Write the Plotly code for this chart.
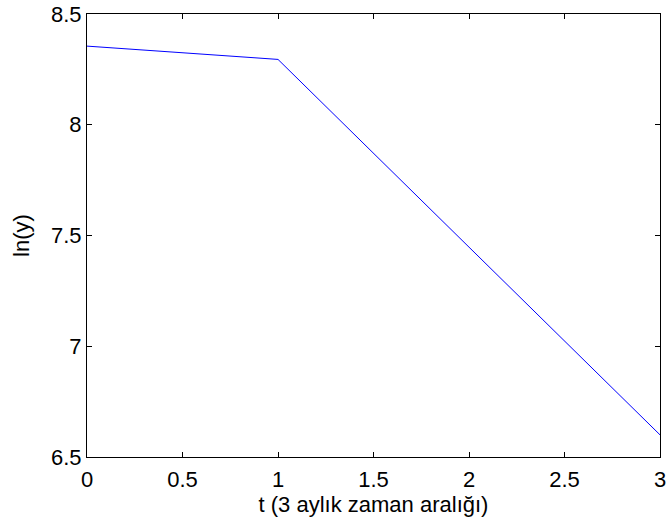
import plotly.graph_objects as go

t = [0, 1, 3]
lny = [8.355, 8.295, 6.60]
xticks = [0, 0.5, 1, 1.5, 2, 2.5, 3]
yticks = [6.5, 7, 7.5, 8, 8.5]

FONT = "Liberation Sans, Arial"
fig = go.Figure()
fig.add_trace(go.Scatter(x=t, y=lny, mode="lines",
                         line=dict(color="#0000ff", width=1)))

axis_common = dict(showgrid=False, zeroline=False, showline=True, linecolor="black",
                   linewidth=1, mirror="ticks", ticks="inside", ticklen=5,
                   tickcolor="black", automargin=False,
                   tickfont=dict(family=FONT, size=22, color="black"))
fig.update_layout(
    width=667, height=526,
    margin=dict(l=87, r=7, t=14, b=69),
    paper_bgcolor="white", plot_bgcolor="white",
    showlegend=False,
    font=dict(family=FONT, size=22, color="black"),
    xaxis=dict(range=[0, 3], tickvals=xticks, ticktext=[f"{v:g}" for v in xticks],
               ticklabelstandoff=3,
               title=dict(text="t (3 aylık zaman aralığı)", standoff=2,
                          font=dict(family=FONT, size=22)), **axis_common),
    yaxis=dict(range=[6.5, 8.5], tickvals=yticks, ticktext=[f"{v:g}" for v in yticks],
               title=dict(text="ln(y)", standoff=15,
                          font=dict(family=FONT, size=22)), **axis_common),
)
fig.write_html("out.html")
